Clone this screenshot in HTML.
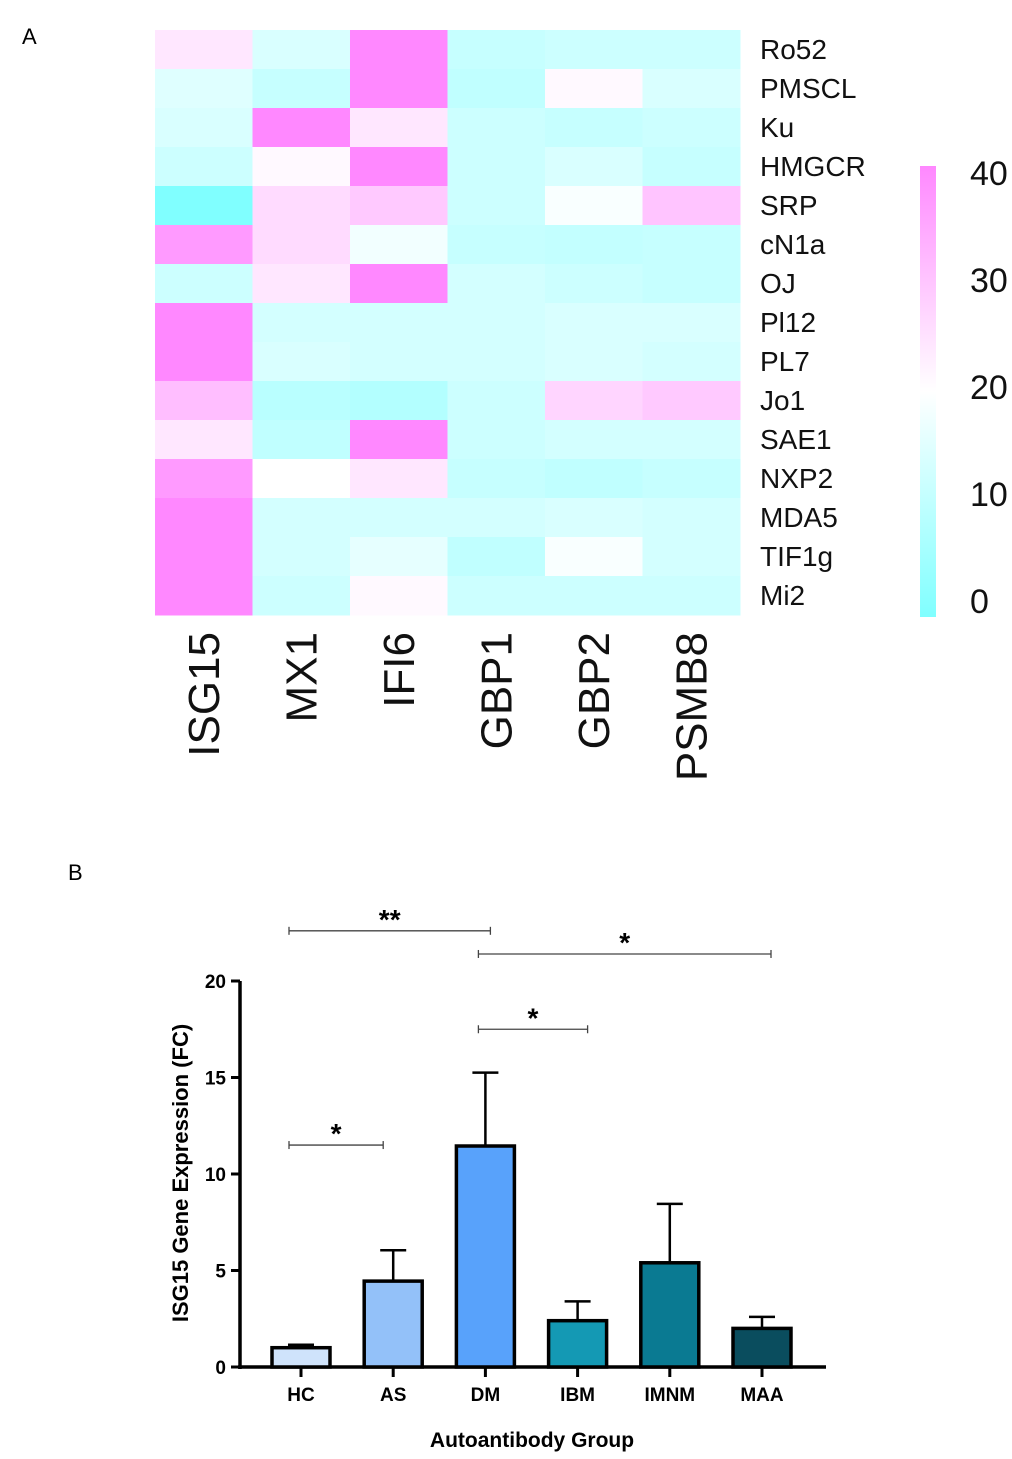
<!DOCTYPE html>
<html><head><meta charset="utf-8"><style>
body{margin:0;background:#fff;width:1012px;height:1454px;overflow:hidden;font-family:"Liberation Sans",sans-serif}
</style></head><body>
<svg width="1012" height="1454" id="fig">
<defs><linearGradient id="cb" x1="0" y1="1" x2="0" y2="0"><stop offset="0" stop-color="#80ffff"/><stop offset="0.5" stop-color="#ffffff"/><stop offset="1" stop-color="#ff88ff"/></linearGradient></defs>
<text x="22" y="44" font-size="22">A</text>
<text x="68" y="880" font-size="22">B</text>
<g id="heat"></g>
<rect x="920" y="166" width="16" height="451" fill="url(#cb)"/>
<g id="cbt"></g>
<g id="bar"></g>
</svg>
<script>
const rows=["Ro52","PMSCL","Ku","HMGCR","SRP","cN1a","OJ","Pl12","PL7","Jo1","SAE1","NXP2","MDA5","TIF1g","Mi2"];
const cols=["ISG15","MX1","IFI6","GBP1","GBP2","PSMB8"];
const heatValues=[
[24,14,40,11,12,12],[15,11,40,10,21,14],[14,40,24,12,11,12],[12,21,40,12,14,11],
[0,26,29,12,19,30],[37,26,18,11,10.5,11],[12,24,40,13,12,11],[40,13,13,13,14,14],
[40,14,13,13,14,13],[31,9,8,12,27,29],[24,10,40,12,13,13],[37,20,24,11,10,11],
[40,13,13,13,14,13],[40,13,16,10,19,13],[40,12,21,12,12,12]];
const cbTicks=[0,10,20,30,40];
const groups=["HC","AS","DM","IBM","IMNM","MAA"];
const means=[1.0,4.45,11.45,2.4,5.4,2.0];
const errs=[0.15,1.6,3.8,1.0,3.05,0.6];
const yTicks=[0,5,10,15,20];
const barColors=["#cfe3fb","#93c1f9","#58a2fb","#1499b4","#0a7a92","#0a4d5e"];
const sigs=[{a:0,b:1,y:11.5,l:"*"},{a:0,b:2,y:22.6,l:"**"},{a:2,b:3,y:17.5,l:"*"},{a:2,b:5,y:21.4,l:"*"}];
const NS="http://www.w3.org/2000/svg";
function mk(t,at,p){const e=document.createElementNS(NS,t);for(const k in at)e.setAttribute(k,at[k]);p.appendChild(e);return e;}
function col(v){const t=Math.max(0,Math.min(40,v));let r,g;if(t<=20){r=128+127*t/20;return `rgb(${r},255,255)`;}g=255-119*(t-20)/20;return `rgb(255,${g},255)`;}
const hx0=155,hy0=30,cw=97.5,ch=39;
const heat=document.getElementById('heat');
heatValues.forEach((row,i)=>row.forEach((v,j)=>{
 const r=mk('rect',{x:hx0+j*cw,y:hy0+i*ch,width:cw+0.5,height:ch+0.5,fill:col(v)},heat);
 
 
}));
rows.forEach((n,i)=>{const t=mk('text',{x:760,y:hy0+i*ch+29,'font-size':28,fill:'#111'},heat);t.textContent=n;
 
 });
cols.forEach((n,j)=>{const cx=hx0+j*cw+cw/2+15;const t=mk('text',{x:cx,y:632,'font-size':44,'text-anchor':'end',transform:`rotate(-90 ${cx} 632)`,fill:'#111'},heat);t.textContent=n;
 
 });
const cbt=document.getElementById('cbt');
const cbY=v=>600-v*10.7;
cbTicks.forEach(v=>{const t=mk('text',{x:970,y:cbY(v)+13,'font-size':34,fill:'#111'},cbt);t.textContent=v;
 
 });
const g=document.getElementById('bar');
const Y=v=>1367-v*19.3, X=i=>301+i*92.2, bw=58;
mk('line',{x1:240,y1:981,x2:240,y2:1369,stroke:'#000','stroke-width':3.5},g);
mk('line',{x1:238,y1:1367,x2:826,y2:1367,stroke:'#000','stroke-width':3.5},g);
yTicks.forEach(v=>{mk('line',{x1:231,y1:Y(v),x2:240,y2:Y(v),stroke:'#000','stroke-width':3},g);
 const t=mk('text',{x:226,y:Y(v)+7,'font-size':19,'font-weight':'bold','text-anchor':'end'},g);t.textContent=v;
 
 });
groups.forEach((n,i)=>{
 mk('line',{x1:X(i),y1:Y(means[i]),x2:X(i),y2:Y(means[i]+errs[i]),stroke:'#000','stroke-width':2.5},g);
 mk('line',{x1:X(i)-13,y1:Y(means[i]+errs[i]),x2:X(i)+13,y2:Y(means[i]+errs[i]),stroke:'#000','stroke-width':2.5},g);
 const r=mk('rect',{x:X(i)-bw/2,y:Y(means[i]),width:bw,height:Y(0)-Y(means[i]),fill:barColors[i],stroke:'#000','stroke-width':3.5},g);
 
 
 mk('line',{x1:X(i),y1:1367,x2:X(i),y2:1377,stroke:'#000','stroke-width':3},g);
 const t=mk('text',{x:X(i),y:1401,'font-size':19,'font-weight':'bold','text-anchor':'middle'},g);t.textContent=n;
 
 
});
sigs.forEach(s=>{const x1=X(s.a)-12,x2=X(s.b)+(s.b===5?9:(s.b===1?-10:(s.b===2&&s.a===0?5:10)));const y=Y(s.y);
 const xs=s.a===2?X(2)-7:x1;
 mk('line',{x1:xs,y1:y,x2:x2,y2:y,stroke:'#444','stroke-width':1.3},g);
 mk('line',{x1:xs,y1:y-4,x2:xs,y2:y+4,stroke:'#444','stroke-width':1.3},g);
 mk('line',{x1:x2,y1:y-4,x2:x2,y2:y+4,stroke:'#444','stroke-width':1.3},g);
 const t=mk('text',{x:(xs+x2)/2,y:y-2,'font-size':28,'font-weight':'bold','text-anchor':'middle'},g);t.textContent=s.l;
 
 });
const yt=mk('text',{x:188,y:1173,'font-size':22,'font-weight':'bold','text-anchor':'middle',transform:'rotate(-90 188 1173)'},g);yt.textContent="ISG15 Gene Expression (FC)";


const xt=mk('text',{x:532,y:1447,'font-size':21,'font-weight':'bold','text-anchor':'middle'},g);xt.textContent="Autoantibody Group";


</script>
</body></html>
